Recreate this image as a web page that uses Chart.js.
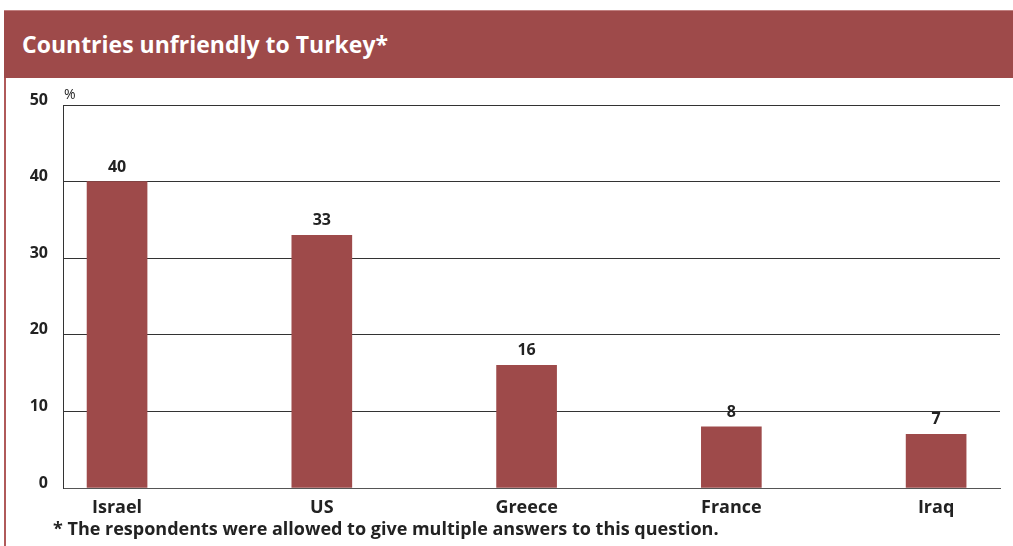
<!DOCTYPE html>
<html>
<head>
<meta charset="utf-8">
<script src="https://cdn.jsdelivr.net/npm/chart.js@4.4.1/dist/chart.umd.min.js"></script>
<style>
    html, body { margin: 0; padding: 0; background: #fff; }
    body { width: 1013px; height: 546px; position: relative; overflow: hidden; font-family: "Open Sans", sans-serif; }
    .header {
        position: absolute; left: 4px; top: 10px; width: 1009px; height: 68px;
        background: #9e4a4a; border-top: 1px solid #c08080; box-sizing: border-box;
    }
    .header h1 {
        margin: 0; position: absolute; left: 18px; top: 22px;
        font-size: 23px; font-weight: 700; color: #fff; line-height: 1;
    }
    .side { position: absolute; left: 4px; top: 78px; width: 2px; height: 468px; background: #b05a5a; }
    .note {
        position: absolute; left: 53px; top: 519px;
        font-size: 18px; font-weight: 700; color: #222; line-height: 1; white-space: nowrap;
    }
    #wrap { position: absolute; left: 0; top: 0; width: 1013px; height: 546px; }
</style>
</head>
<body>
<div id="wrap"><canvas id="unfriendly-chart"></canvas></div>
<div class="header"><h1>Countries unfriendly to Turkey*</h1></div>
<div class="side"></div>
<div class="note">* The respondents were allowed to give multiple answers to this question.</div>

<script>
const countries = ['Israel', 'US', 'Greece', 'France', 'Iraq'];
const shares = [40, 33, 16, 8, 7];
const yTicks = [0, 10, 20, 30, 40, 50];

const barColor = '#9e4a4a';
const inkColor = '#222';
const fontFamily = '"Open Sans", sans-serif';

// value labels over the bars and the "%" unit above the axis
const barLabels = {
    id: 'barLabels',
    afterDatasetsDraw(chart) {
        const ctx = chart.ctx;
        const meta = chart.getDatasetMeta(0);
        ctx.save();
        ctx.fillStyle = inkColor;
        ctx.font = 'bold 16px ' + fontFamily;
        ctx.textAlign = 'center';
        ctx.textBaseline = 'alphabetic';
        meta.data.forEach((bar, i) => {
            ctx.fillText(String(shares[i]), bar.x, bar.y - 10);
        });
        const y = chart.scales.y;
        ctx.font = '14px ' + fontFamily;
        ctx.textAlign = 'left';
        ctx.fillText('%', chart.chartArea.left + 1, y.getPixelForValue(50) - 6);
        ctx.restore();
    }
};

new Chart(document.getElementById('unfriendly-chart'), {
    type: 'bar',
    data: {
        datasets: [{
            data: shares.map((v, i) => ({ x: i, y: v })),
            backgroundColor: barColor,
            barThickness: 60,
            borderWidth: 0
        }]
    },
    options: {
        responsive: true,
        maintainAspectRatio: false,
        animation: false,
        events: [],
        layout: { padding: { top: 105, right: 13, bottom: 0, left: 0 } },
        plugins: {
            legend: { display: false },
            tooltip: { enabled: false }
        },
        scales: {
            x: {
                type: 'linear',
                offset: false,
                min: -0.264,
                max: 4.312,
                afterBuildTicks: (scale) => {
                    scale.ticks = countries.map((c, i) => ({ value: i }));
                },
                afterFit: (scale) => { scale.height = 58; },
                grid: { display: false },
                border: { display: true, color: '#555', width: 1 },
                ticks: {
                    autoSkip: false,
                    maxRotation: 0,
                    padding: 1,
                    color: inkColor,
                    font: { family: fontFamily, size: 18, weight: 'bold' },
                    callback: (v) => countries[v]
                }
            },
            y: {
                min: 0,
                max: 50,
                afterBuildTicks: (scale) => {
                    scale.ticks = yTicks.map(v => ({ value: v }));
                },
                afterFit: (scale) => { scale.width = 63; },
                grid: { color: '#333', lineWidth: 1, drawTicks: false },
                border: { display: true, color: '#333', width: 1 },
                ticks: {
                    padding: 15,
                    labelOffset: -5,
                    color: inkColor,
                    font: { family: fontFamily, size: 16, weight: 'bold' }
                }
            }
        }
    },
    plugins: [barLabels]
});
</script>
</body>
</html>
